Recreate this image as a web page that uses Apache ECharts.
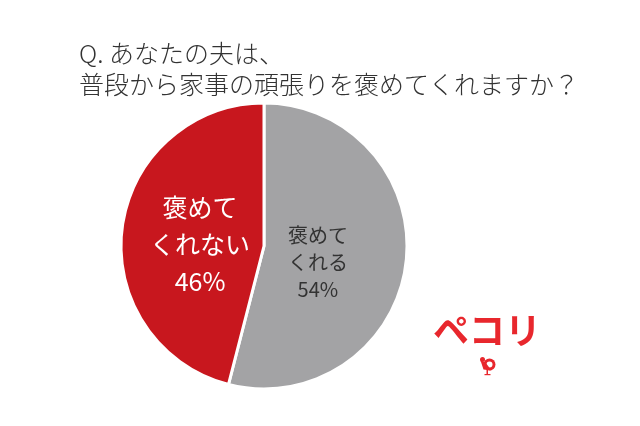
<!DOCTYPE html>
<html>
<head>
<meta charset="utf-8">
<script src="https://cdn.jsdelivr.net/npm/echarts@6/dist/echarts.min.js"></script>
<style>html,body{margin:0;padding:0;background:#fff;}#c{width:640px;height:426px;}</style>
</head>
<body>
<div id="c"></div>
<script>
const titleLines = ['Q. あなたの夫は、', '普段から家事の頑張りを褒めてくれますか？'];
const categories = ['褒めて\nくれる', '褒めて\nくれない'];
const values = [54, 46];
const colors = ['#a3a3a5', '#c8171e'];
const labelColors = ['#333333', '#ffffff'];

const chart = echarts.init(document.getElementById('c'), null, {renderer: 'canvas'});
const font = '"Noto Sans CJK JP", "Noto Sans", sans-serif';
chart.setOption({
  backgroundColor: '#ffffff',
  animation: false,
  title: {
    text: titleLines.join('\n'),
    left: 74, top: 33,
    textStyle: {fontFamily: font, fontSize: 25, fontWeight: 300, color: '#333333', lineHeight: 31}
  },
  series: [{
    type: 'pie',
    center: [264, 246],
    radius: [0, 143],
    startAngle: 90,
    clockwise: true,
    itemStyle: {borderColor: '#ffffff', borderWidth: 3},
    labelLine: {show: false},
    data: categories.map((c, i) => ({
      name: c, value: values[i],
      itemStyle: {color: colors[i]},
      label: i === 0
        ? {fontSize: 20, lineHeight: 27, color: labelColors[i]}
        : {fontSize: 25, lineHeight: 37, color: labelColors[i]}
    })),
    label: {
      show: true, position: 'inside', fontFamily: font, align: 'center',
      formatter: p => p.name + '\n' + p.value + '%'
    },
    labelLayout: p => p.dataIndex === 0 ? {dx: -20, dy: 7} : {dx: 10, dy: 8}
  }],
  graphic: [
    {type: 'text', left: 433, top: 312, style: {text: 'ペコリ', fontFamily: font, fontSize: 36, fontWeight: 'bold', fill: '#e8272d'}},
    {type: 'group', left: 480, top: 357, children: [
      {type: 'circle', shape: {cx: 10, cy: 7, r: 6}, style: {fill: '#e8272d'}},
      {type: 'circle', shape: {cx: 10, cy: 7, r: 3}, style: {fill: '#ffffff'}},
      {type: 'circle', shape: {cx: 3, cy: 2, r: 2.5}, style: {fill: '#e8272d'}},
      {type: 'polygon', shape: {points: [[1, 3], [6, 5], [12, 13], [4, 12]]}, style: {fill: '#e8272d'}},
      {type: 'rect', shape: {x: 7, y: 12, width: 1.5, height: 5}, style: {fill: '#e8272d'}},
      {type: 'rect', shape: {x: 5, y: 16.5, width: 6, height: 1.2}, style: {fill: '#e8272d'}}
    ]}
  ]
});
</script>
</body>
</html>
